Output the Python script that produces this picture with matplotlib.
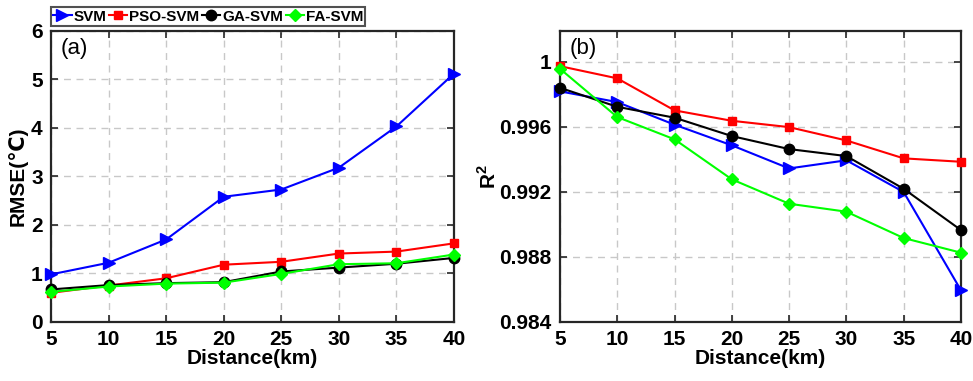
import numpy as np
import matplotlib
matplotlib.use('Agg')
from matplotlib import pyplot as plt

plt.rcParams['font.family'] = ['Liberation Sans', 'DejaVu Sans']
plt.rcParams['mathtext.fontset'] = 'custom'
plt.rcParams['mathtext.rm'] = 'Liberation Sans:bold'
plt.rcParams['mathtext.bf'] = 'Liberation Sans:bold'

distance = [5, 10, 15, 20, 25, 30, 35, 40]
labels = ['SVM', 'PSO-SVM', 'GA-SVM', 'FA-SVM']

rmse_svm = [0.98, 1.22, 1.70, 2.58, 2.73, 3.18, 4.03, 5.12]
rmse_pso = [0.60, 0.75, 0.90, 1.18, 1.24, 1.41, 1.45, 1.62]
rmse_ga = [0.67, 0.76, 0.80, 0.82, 1.04, 1.12, 1.20, 1.32]
rmse_fa = [0.62, 0.73, 0.79, 0.81, 0.99, 1.19, 1.21, 1.39]

r2_svm = [0.99818, 0.99752, 0.99613, 0.99486, 0.99344, 0.99394, 0.99199, 0.98595]
r2_pso = [0.99973, 0.99898, 0.99701, 0.99637, 0.99598, 0.99516, 0.99406, 0.99385]
r2_ga = [0.99840, 0.99723, 0.99656, 0.99543, 0.99463, 0.99420, 0.99219, 0.98965]
r2_fa = [0.99957, 0.99660, 0.99523, 0.99277, 0.99127, 0.99078, 0.98916, 0.98826]

styles = [('blue', '>', 9), ('red', 's', 6), ('black', 'o', 7.5), ('#00ff00', 'D', 6.5)]

fig = plt.figure(figsize=(9.73, 3.81), dpi=100)
ax1 = fig.add_axes([0.0524, 0.155, 0.4142, 0.764])
ax2 = fig.add_axes([0.5755, 0.155, 0.4121, 0.764])


def style_axes(ax):
    ax.grid(True, linestyle=(0, (5, 4)), color='#c8c8c8', linewidth=1.0)
    ax.set_axisbelow(True)
    for s in ax.spines.values():
        s.set_linewidth(1.6)
        s.set_color('#262626')
    ax.tick_params(direction='in', length=5, width=1.2, labelsize=15, colors='#262626',
                   top=True, right=True, pad=6)
    for t in ax.get_xticklabels() + ax.get_yticklabels():
        t.set_fontweight('bold')
        t.set_color('black')
    ax.set_xlim(5, 40)
    ax.set_xticks(distance)
    ax.set_xlabel('Distance(km)', fontsize=15, fontweight='bold', labelpad=0)


lines = []
for ys, (c, m, ms), lab in zip([rmse_svm, rmse_pso, rmse_ga, rmse_fa], styles, labels):
    l, = ax1.plot(distance, ys, color=c, marker=m, markersize=ms, linewidth=1.5, label=lab,
                  clip_on=False, zorder=3)
    lines.append(l)
ax1.set_ylim(0, 6)
ax1.set_yticks(range(0, 7))
style_axes(ax1)
ax1.set_ylabel('RMSE(℃)', fontsize=15, fontweight='bold', labelpad=2)
ax1.text(0.025, 0.975, '(a)', transform=ax1.transAxes, fontsize=16, va='top', ha='left')

for ys, (c, m, ms), lab in zip([r2_svm, r2_pso, r2_ga, r2_fa], styles, labels):
    ax2.plot(distance, ys, color=c, marker=m, markersize=ms, linewidth=1.5, label=lab,
             clip_on=False, zorder=3)
ax2.set_ylim(0.984, 1.0019)
ax2.set_yticks([0.984, 0.988, 0.992, 0.996, 1.0])
ax2.set_yticklabels(['0.984', '0.988', '0.992', '0.996', '1'])
style_axes(ax2)
ax2.set_ylabel(r'R$^{2}$', fontsize=15, fontweight='bold', labelpad=0)
ax2.text(0.025, 0.975, '(b)', transform=ax2.transAxes, fontsize=16, va='top', ha='left')

leg = fig.legend(handles=lines, loc='lower left', bbox_to_anchor=(0.0524, 0.932), ncol=4,
                 frameon=True, fancybox=False, edgecolor='#262626', fontsize=11,
                 handlelength=1.2, handletextpad=0.1, columnspacing=0.2,
                 borderpad=0.15, borderaxespad=0)
leg.get_frame().set_linewidth(1.5)
for t in leg.get_texts():
    t.set_fontweight('bold')

plt.savefig('out.png', dpi=100)
